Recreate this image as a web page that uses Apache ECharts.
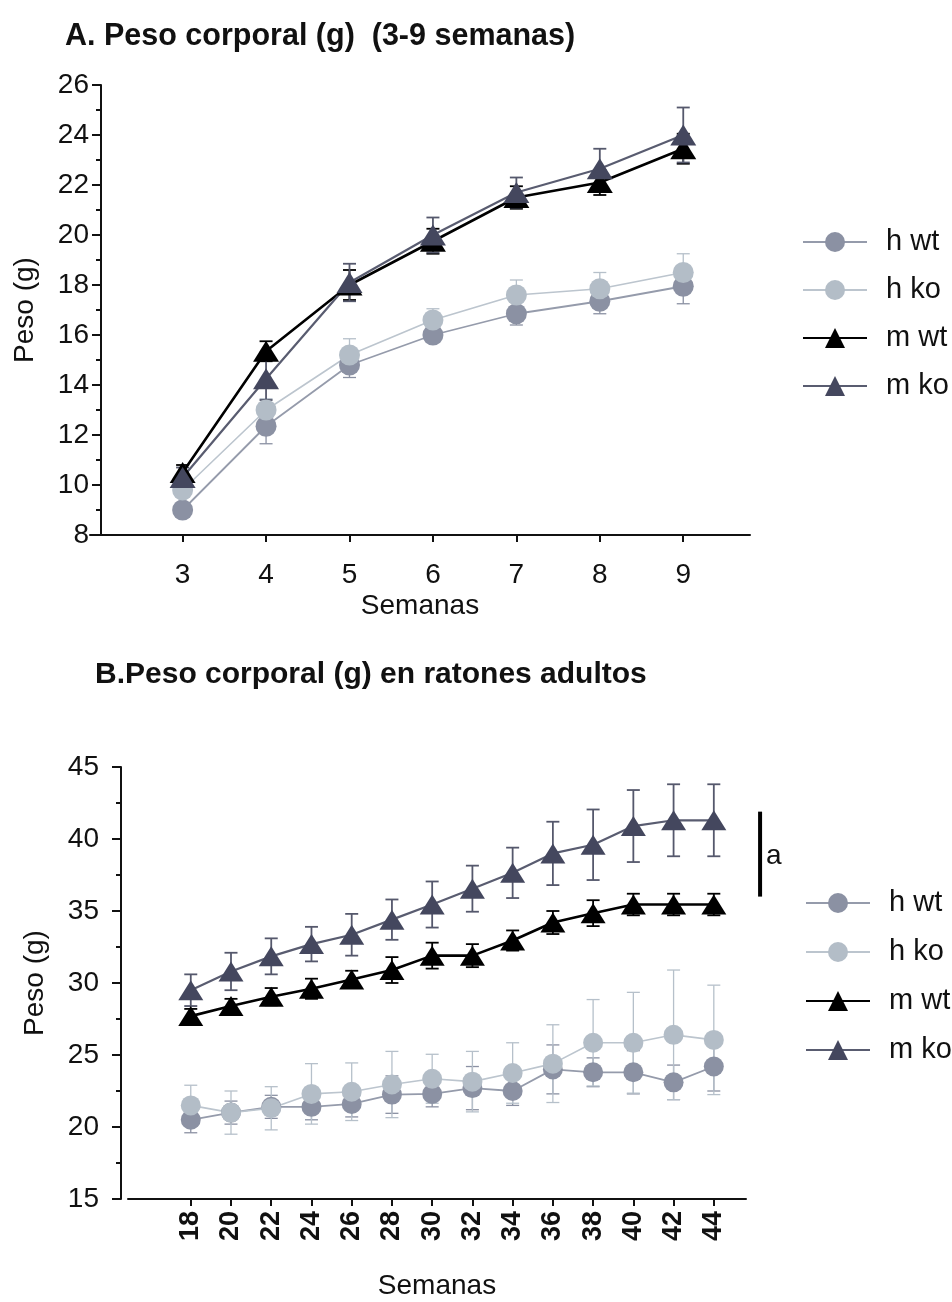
<!DOCTYPE html>
<html>
<head>
<meta charset="utf-8">
<script src="https://cdn.jsdelivr.net/npm/echarts@6/dist/echarts.min.js"></script>
<style>
  html, body { margin: 0; padding: 0; background: #fff; }
  #chart { width: 952px; height: 1302px; }
</style>
</head>
<body>
<div id="chart"></div>
<script>
// ---- Panel A: body weight, weeks 3-9 (mean and SE) ----
const weeksA = [3, 4, 5, 6, 7, 8, 9];
const hwtA   = [9.0, 12.35, 14.8, 16.0, 16.85, 17.35, 17.95];
const hwtAse = [0.3, 0.7, 0.5, 0.3, 0.45, 0.5, 0.7];
const hkoA   = [9.8, 13.0, 15.2, 16.6, 17.6, 17.85, 18.5];
const hkoAse = [0.3, 0.45, 0.65, 0.45, 0.6, 0.65, 0.75];
const mwtA   = [10.5, 15.35, 18.0, 19.75, 21.5, 22.1, 23.45];
const mwtAse = [0.3, 0.4, 0.6, 0.5, 0.45, 0.5, 0.6];
const mkoA   = [10.3, 14.25, 18.1, 20.0, 21.7, 22.65, 24.0];
const mkoAse = [0.4, 0.85, 0.75, 0.7, 0.6, 0.8, 1.1];

// ---- Panel B: body weight in adult mice, weeks 18-44 ----
const weeksB = [18, 20, 22, 24, 26, 28, 30, 32, 34, 36, 38, 40, 42, 44];
const hwtB   = [20.5, 21.0, 21.4, 21.4, 21.6, 22.25, 22.3, 22.7, 22.5, 24.0, 23.8, 23.8, 23.1, 24.2];
const hwtBse = [0.9, 0.8, 0.8, 0.9, 0.9, 1.3, 0.9, 1.5, 1.0, 1.7, 1.0, 1.5, 1.2, 1.7];
const hkoB   = [21.5, 21.0, 21.3, 22.3, 22.45, 22.95, 23.35, 23.15, 23.75, 24.4, 25.85, 25.85, 26.4, 26.05];
const hkoBse = [1.4, 1.5, 1.5, 2.1, 2.0, 2.3, 1.7, 2.1, 2.1, 2.7, 3.0, 3.5, 4.5, 3.8];
const mwtB   = [27.7, 28.4, 29.05, 29.6, 30.25, 30.9, 31.9, 31.9, 32.95, 34.2, 34.85, 35.45, 35.45, 35.45];
const mwtBse = [0.5, 0.5, 0.6, 0.7, 0.6, 0.9, 0.9, 0.8, 0.7, 0.8, 0.9, 0.75, 0.75, 0.75];
const mkoB   = [29.5, 30.8, 31.85, 32.7, 33.35, 34.4, 35.45, 36.55, 37.65, 39.0, 39.6, 40.9, 41.3, 41.3];
const mkoBse = [1.1, 1.3, 1.25, 1.2, 1.45, 1.4, 1.6, 1.6, 1.75, 2.2, 2.45, 2.5, 2.5, 2.5];

const groupNames = ['h wt', 'h ko', 'm wt', 'm ko'];
const yTicksA = [8, 26, 2];     // min, max, step
const yTicksB = [15, 45, 5];

const FONT = '"Liberation Sans", Arial, Helvetica, sans-serif';
const INK = '#111';

const look = {
  'h wt': { fill: '#8b91a3', line: '#959bab', err: '#8b91a3', symbol: 'circle', lw: 1.8 },
  'h ko': { fill: '#b3bdc7', line: '#bcc5ce', err: '#b6c0ca', symbol: 'circle', lw: 1.6 },
  'm wt': { fill: '#000000', line: '#000000', err: '#000000', symbol: 'triangle', lw: 2.6 },
  'm ko': { fill: '#44475e', line: '#595c70', err: '#55586c', symbol: 'triangle', lw: 2.2 }
};

function pairs(xs, ys) { return xs.map((x, i) => [x, ys[i]]); }
function bars(xs, ys, se) { return xs.map((x, i) => [x, ys[i] - se[i], ys[i] + se[i]]); }

// vertical SE whisker with caps at both ends
function errorRenderer(color, capW, width) {
  return function (params, api) {
    const x = api.value(0);
    const hi = api.coord([x, api.value(2)]);
    const lo = api.coord([x, api.value(1)]);
    const h = capW / 2;
    const st = { stroke: color, lineWidth: width };
    return {
      type: 'group',
      children: [
        { type: 'line', shape: { x1: hi[0], y1: hi[1], x2: lo[0], y2: lo[1] }, style: st },
        { type: 'line', shape: { x1: hi[0] - h, y1: hi[1], x2: hi[0] + h, y2: hi[1] }, style: st },
        { type: 'line', shape: { x1: lo[0] - h, y1: lo[1], x2: lo[0] + h, y2: lo[1] }, style: st }
      ]
    };
  };
}

function panelSeries(gi, xs, sets, sizes) {
  const out = [];
  sets.forEach(([name, ys, se]) => {
    const L = look[name];
    out.push({
      type: 'line', name: name, xAxisIndex: gi, yAxisIndex: gi,
      data: pairs(xs, ys),
      symbol: L.symbol,
      symbolSize: L.symbol === 'circle' ? sizes.circle : sizes.tri,
      itemStyle: { color: L.fill },
      lineStyle: { color: L.line, width: L.lw },
      z: 2, animation: false
    });
    out.push({
      type: 'custom', name: name + ' SE', xAxisIndex: gi, yAxisIndex: gi,
      data: bars(xs, ys, se),
      renderItem: errorRenderer(L.err, sizes.cap, name.startsWith('m') ? 1.8 : 1.3),
      z: 2, animation: false, silent: true
    });
  });
  return out;
}

const txt = (size, weight) => ({ fontFamily: FONT, fontSize: size, fontWeight: weight || 'normal', color: INK });
const axisLineStyle = { lineStyle: { color: '#111', width: 2 } };

const chart = echarts.init(document.getElementById('chart'), null, { renderer: 'canvas' });

const option = {
  backgroundColor: '#ffffff',
  animation: false,
  title: [
    { text: 'A. Peso corporal (g)  (3-9 semanas)', left: 60, top: 16, textStyle: txt(30.5, 'bold') },
    { text: 'B.Peso corporal (g) en ratones adultos', left: 90, top: 655, textStyle: txt(30, 'bold') }
  ],
  grid: [
    { left: 90, top: 85, width: 660, height: 450 },
    { left: 128, top: 767, width: 618, height: 432 }
  ],
  xAxis: [
    {
      type: 'value', gridIndex: 0, min: 1.89, max: 9.8,
      name: 'Semanas', nameLocation: 'middle', nameGap: 57, nameTextStyle: txt(28),
      axisLine: axisLineStyle,
      axisTick: { length: 7, customValues: weeksA, lineStyle: { color: '#111', width: 2 } },
      axisLabel: { customValues: weeksA, margin: 26, ...txt(28) },
      splitLine: { show: false }
    },
    {
      type: 'value', gridIndex: 1, min: 14.88, max: 45.6,
      name: 'Semanas', nameLocation: 'middle', nameGap: 73, nameTextStyle: txt(28),
      axisLine: axisLineStyle,
      axisTick: { length: 7, customValues: weeksB, lineStyle: { color: '#111', width: 2 } },
      axisLabel: { customValues: weeksB, margin: 12, rotate: 90, ...txt(27, 'bold') },
      splitLine: { show: false }
    }
  ],
  yAxis: [
    {
      type: 'value', gridIndex: 0, min: yTicksA[0], max: yTicksA[1], interval: yTicksA[2], offset: -11,
      name: 'Peso (g)', nameLocation: 'middle', nameGap: 62, nameRotate: 90, nameTextStyle: txt(28),
      axisLine: { show: true, ...axisLineStyle },
      axisTick: { show: true, length: 9, lineStyle: { color: '#111', width: 2 } },
      minorTick: { show: true, splitNumber: 2, length: 5, lineStyle: { color: '#111', width: 2 } },
      axisLabel: { margin: 12, ...txt(28) },
      splitLine: { show: false }
    },
    {
      type: 'value', gridIndex: 1, min: yTicksB[0], max: yTicksB[1], interval: yTicksB[2], offset: 7,
      name: 'Peso (g)', nameLocation: 'middle', nameGap: 72, nameRotate: 90, nameTextStyle: txt(28),
      axisLine: { show: true, ...axisLineStyle },
      axisTick: { show: true, length: 9, lineStyle: { color: '#111', width: 2 } },
      minorTick: { show: true, splitNumber: 2, length: 5, lineStyle: { color: '#111', width: 2 } },
      axisLabel: { margin: 22, ...txt(28) },
      splitLine: { show: false }
    }
  ],
  legend: [
    {
      data: groupNames, orient: 'vertical', left: 797, top: 222,
      itemWidth: 64, itemHeight: 25, itemGap: 18, selectedMode: false,
      textStyle: { ...txt(29), lineHeight: 30, padding: [0, 0, 0, 14] }
    },
    {
      data: groupNames, orient: 'vertical', left: 800, top: 883,
      itemWidth: 64, itemHeight: 25, itemGap: 19, selectedMode: false,
      textStyle: { ...txt(29), lineHeight: 30, padding: [0, 0, 0, 14] }
    }
  ],
  series: [
    ...panelSeries(0, weeksA, [
      ['h wt', hwtA, hwtAse], ['h ko', hkoA, hkoAse], ['m wt', mwtA, mwtAse], ['m ko', mkoA, mkoAse]
    ], { circle: 21, tri: [26, 21], cap: 13 }),
    ...panelSeries(1, weeksB, [
      ['h wt', hwtB, hwtBse], ['h ko', hkoB, hkoBse], ['m wt', mwtB, mwtBse], ['m ko', mkoB, mkoBse]
    ], { circle: 20, tri: [25, 20], cap: 13 })
  ]
};

chart.setOption(option);

// Significance bracket "a" between m ko and m wt in panel B
const sigX = 46.3, sigLow = 36.0, sigHigh = 41.9, sigMid = 38.8;
const pTop = chart.convertToPixel({ gridIndex: 1 }, [sigX, sigHigh]);
const pBot = chart.convertToPixel({ gridIndex: 1 }, [sigX, sigLow]);
const pMid = chart.convertToPixel({ gridIndex: 1 }, [sigX, sigMid]);
chart.setOption({
  graphic: [
    { type: 'line', shape: { x1: pTop[0], y1: pTop[1], x2: pBot[0], y2: pBot[1] },
      style: { stroke: '#000', lineWidth: 4 } },
    { type: 'text', x: pTop[0] + 6, y: pMid[1],
      style: { text: 'a', fontFamily: FONT, fontSize: 28, fill: INK, verticalAlign: 'middle', align: 'left' } }
  ]
});
</script>
</body>
</html>
